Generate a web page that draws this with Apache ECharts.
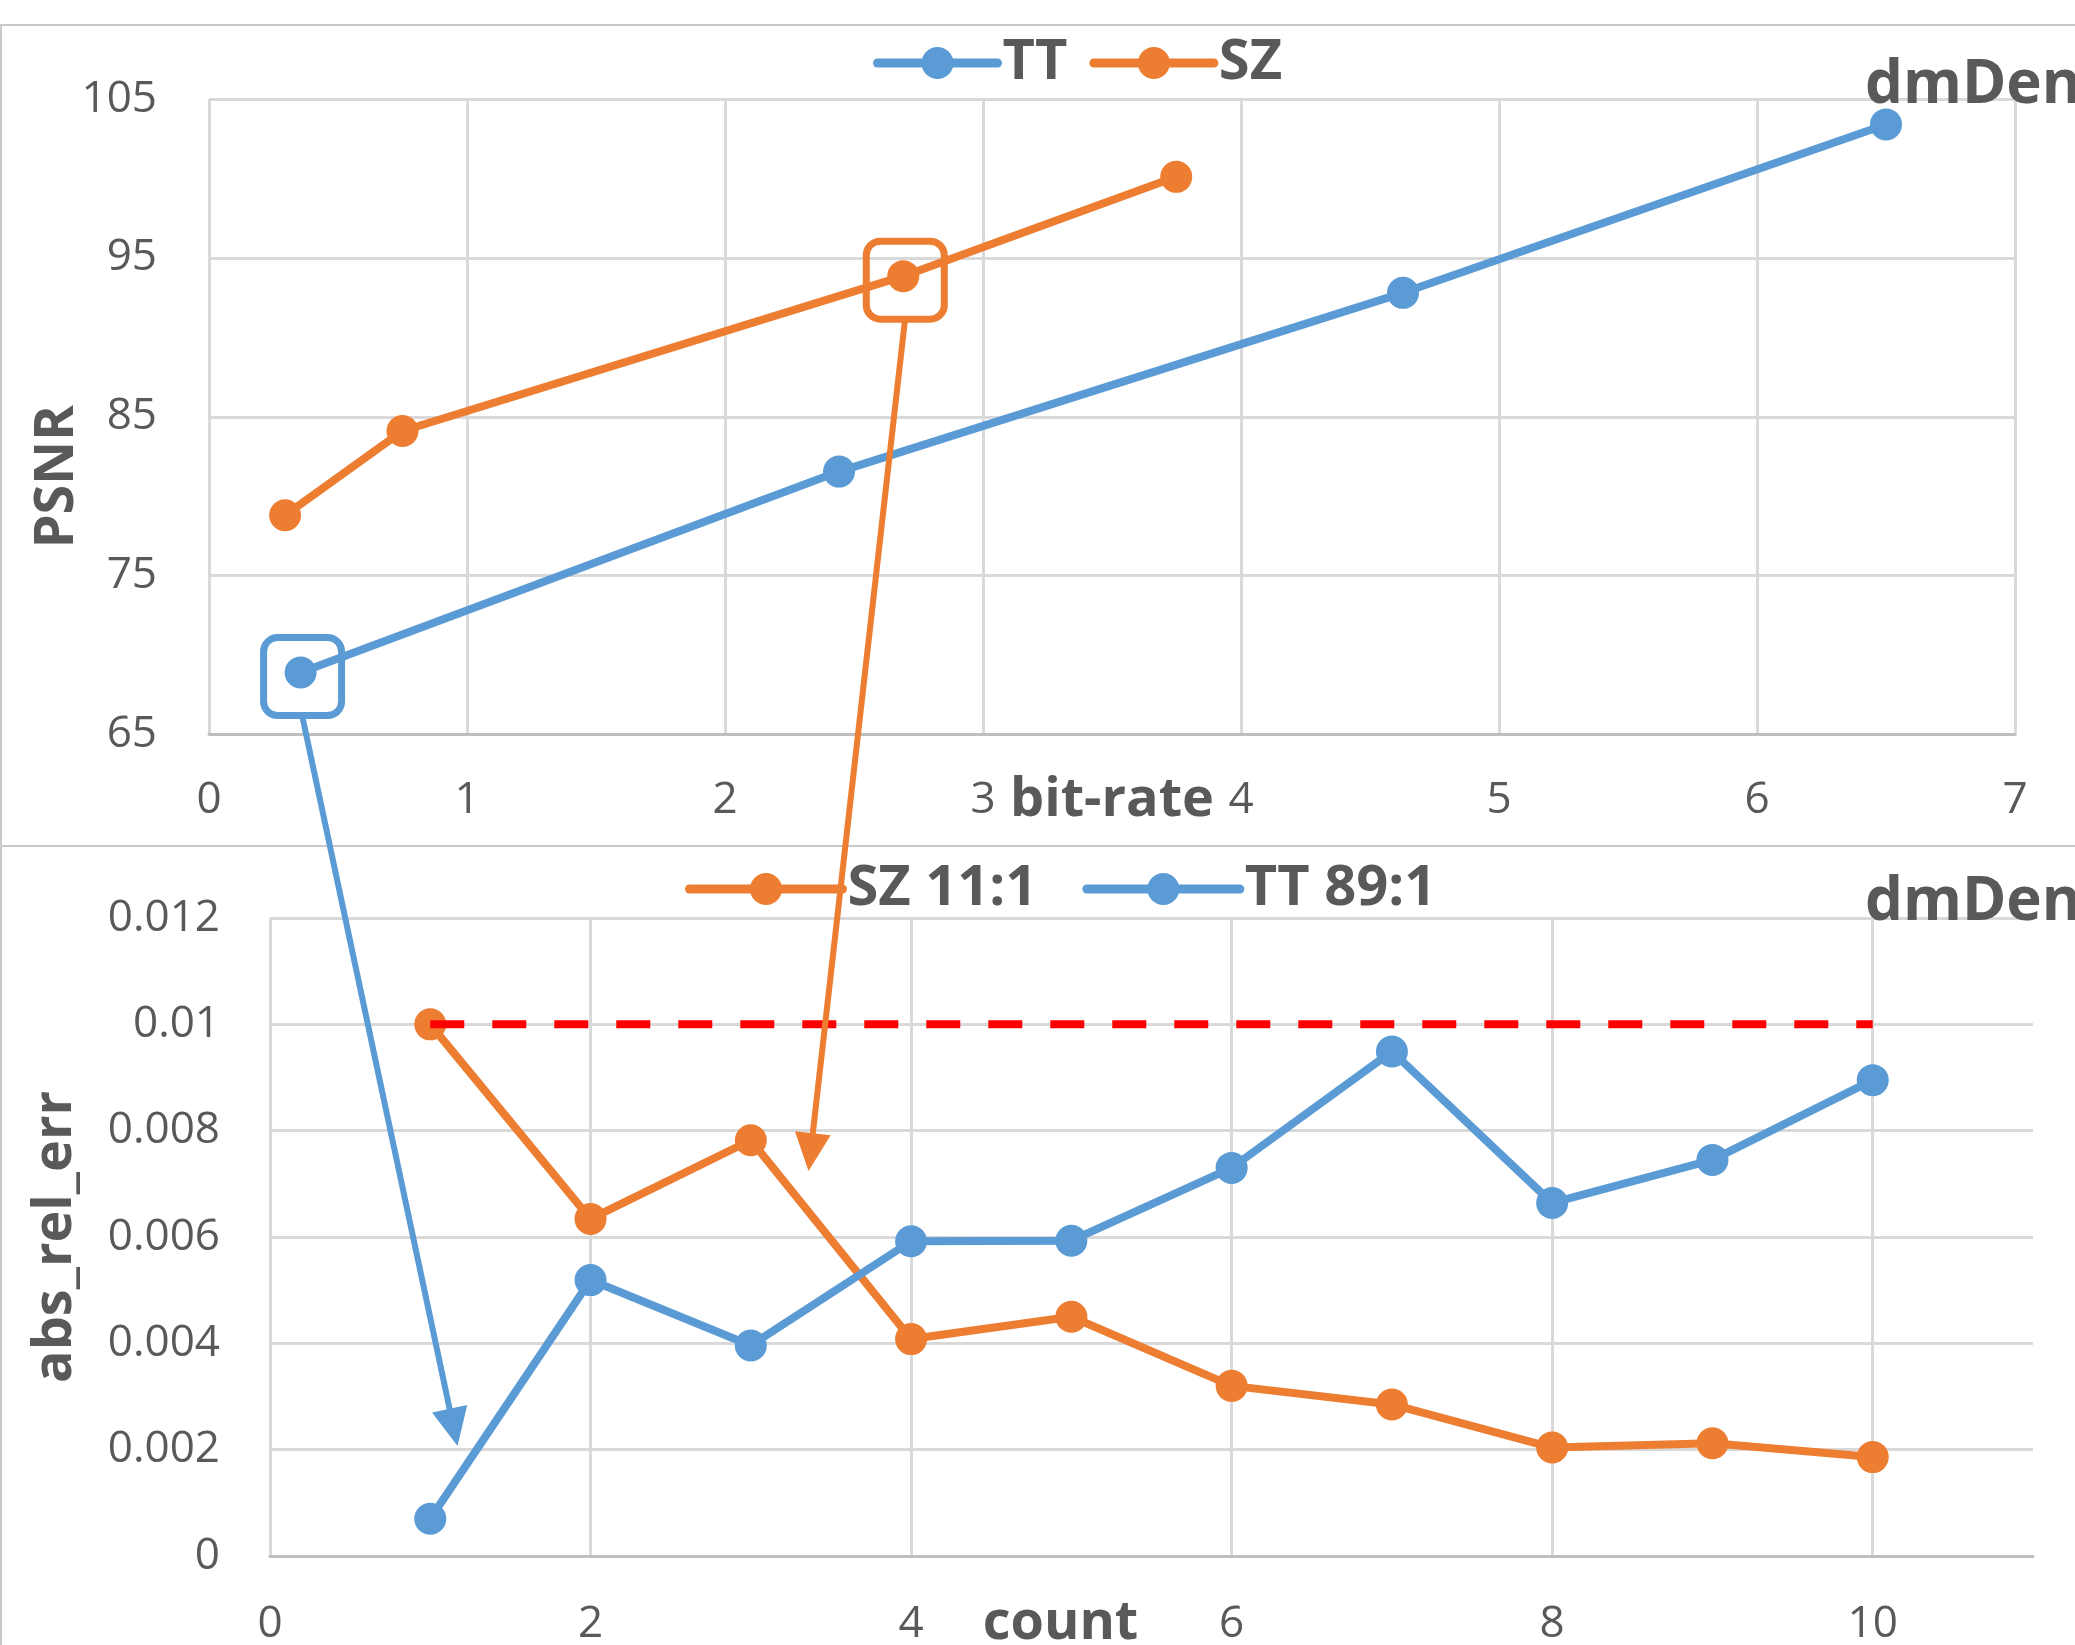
<!DOCTYPE html>
<html>
<head>
<meta charset="utf-8">
<script src="https://cdn.jsdelivr.net/npm/echarts@6/dist/echarts.min.js"></script>
<style>
  html, body { margin: 0; padding: 0; background: #fff; }
  #main { width: 2075px; height: 1645px; }
</style>
</head>
<body>
<div id="main"></div>
<script>
// top chart: PSNR vs bit-rate
var ttRate = [0.355, 2.442, 4.628, 6.50];
var ttPsnr = [68.9, 81.55, 92.8, 103.4];
var szRate = [0.295, 0.750, 2.691, 3.749];
var szPsnr = [78.8, 84.1, 93.85, 100.1];

// bottom chart: abs_rel_err vs count
var counts = [1, 2, 3, 4, 5, 6, 7, 8, 9, 10];
var szErr = [0.0100, 0.00634, 0.00782, 0.00408, 0.00450, 0.00320, 0.00285, 0.00204, 0.00212, 0.00186];
var ttErr = [0.00070, 0.00519, 0.00396, 0.00592, 0.00593, 0.00730, 0.00949, 0.00664, 0.00745, 0.00895];
var errBound = 0.01;

// highlighted points and where the arrows land (bottom chart coords)
var markTT = [0.355, 68.9];
var markSZ = [2.691, 93.85];
var arrowTipTT = [1.17, 0.00207];
var arrowTipSZ = [3.36, 0.00724];

var BLUE = "#5b9bd5";
var ORANGE = "#ed7d31";
var TXT = "#595959";
var FONT = "Open Sans";

function pairs(xs, ys) {
  var arr = [];
  for (var i = 0; i < xs.length; i++) {
    arr.push([xs[i], ys[i]]);
  }
  return arr;
}

function lineSeries(name, color, data, xi, yi) {
  return {
    name: name,
    type: "line",
    xAxisIndex: xi,
    yAxisIndex: yi,
    data: data,
    symbol: "circle",
    symbolSize: 32,
    color: color,
    lineStyle: { width: 8, color: color },
    itemStyle: { color: color },
    animation: false
  };
}

var tickLabel = { color: TXT, fontSize: 44, fontFamily: FONT };
var titleStyle = { color: TXT, fontSize: 54, fontWeight: "bold", fontFamily: FONT, lineHeight: 60 };
var legendText = { color: TXT, fontSize: 56, fontWeight: "bold", fontFamily: FONT, lineHeight: 56 };

var myChart = echarts.init(document.getElementById("main"));
var option = {
  backgroundColor: "#fff",
  animation: false,
  title: [
    { text: "dmDen", left: 1860, top: 51, textStyle: { color: TXT, fontSize: 60, fontWeight: "bold", fontFamily: FONT } },
    { text: "dmDen", left: 1860, top: 868, textStyle: { color: TXT, fontSize: 60, fontWeight: "bold", fontFamily: FONT } }
  ],
  legend: [
    {
      data: ["TT", "SZ"],
      left: 868,
      top: 30,
      itemWidth: 120,
      itemHeight: 40,
      itemGap: 22,
      lineStyle: { width: 9, cap: "round" },
      textStyle: legendText
    },
    {
      data: ["SZ 11:1", "TT 89:1"],
      left: 680,
      top: 856,
      itemWidth: 153,
      itemHeight: 40,
      itemGap: 45,
      lineStyle: { width: 9, cap: "round" },
      textStyle: legendText
    }
  ],
  grid: [
    { left: 209, top: 99, width: 1806, height: 635.5, outerBoundsMode: "none" },
    { left: 270, top: 918, width: 1763, height: 638, outerBoundsMode: "none" }
  ],
  xAxis: [
    {
      type: "value",
      gridIndex: 0,
      min: 0,
      max: 7,
      interval: 1,
      name: "bit-rate",
      nameLocation: "middle",
      nameGap: 36,
      nameMoveOverlap: false,
      nameTextStyle: titleStyle,
      axisLine: { show: true, lineStyle: { color: "#bfbfbf", width: 3 } },
      axisTick: { show: false },
      axisLabel: Object.assign({ margin: 44 }, tickLabel),
      splitLine: { show: true, lineStyle: { color: "#d9d9d9", width: 3 } }
    },
    {
      type: "value",
      gridIndex: 1,
      min: 0,
      max: 11,
      interval: 2,
      name: "count",
      nameLocation: "middle",
      nameGap: 38,
      nameMoveOverlap: false,
      nameTextStyle: Object.assign({ padding: [0, 182, 0, 0] }, titleStyle),
      axisLine: { show: true, lineStyle: { color: "#bfbfbf", width: 3 } },
      axisTick: { show: false },
      axisLabel: Object.assign({ margin: 46, showMaxLabel: false }, tickLabel),
      splitLine: { show: true, showMaxLine: false, lineStyle: { color: "#d9d9d9", width: 3 } }
    }
  ],
  yAxis: [
    {
      type: "value",
      gridIndex: 0,
      min: 65,
      max: 105,
      interval: 10,
      name: "PSNR",
      nameLocation: "middle",
      nameRotate: 90,
      nameGap: 121,
      nameMoveOverlap: false,
      nameTextStyle: Object.assign({ padding: [0, 120, 0, 0] }, titleStyle),
      axisLine: { show: false },
      axisTick: { show: false },
      axisLabel: Object.assign({ margin: 52 }, tickLabel),
      splitLine: { show: true, lineStyle: { color: "#d9d9d9", width: 3 } }
    },
    {
      type: "value",
      gridIndex: 1,
      min: 0,
      max: 0.012,
      interval: 0.002,
      name: "abs_rel_err",
      nameLocation: "middle",
      nameRotate: 90,
      nameGap: 184,
      nameMoveOverlap: false,
      nameTextStyle: titleStyle,
      axisLine: { show: false },
      axisTick: { show: false },
      axisLabel: Object.assign({ margin: 50 }, tickLabel),
      splitLine: { show: true, lineStyle: { color: "#d9d9d9", width: 3 } }
    }
  ],
  series: [
    lineSeries("TT", BLUE, pairs(ttRate, ttPsnr), 0, 0),
    lineSeries("SZ", ORANGE, pairs(szRate, szPsnr), 0, 0),
    lineSeries("SZ 11:1", ORANGE, pairs(counts, szErr), 1, 1),
    lineSeries("TT 89:1", BLUE, pairs(counts, ttErr), 1, 1),
    {
      name: "bound",
      type: "line",
      xAxisIndex: 1,
      yAxisIndex: 1,
      data: [[counts[0], errBound], [counts[counts.length - 1], errBound]],
      symbol: "none",
      lineStyle: { color: "#ff0000", width: 8, type: [34, 28] },
      z: 5,
      animation: false
    }
  ]
};
myChart.setOption(option);

// frames, boxes and arrows that tie the two charts together
function arrow(color, from, to) {
  var dx = to[0] - from[0], dy = to[1] - from[1];
  var len = Math.sqrt(dx * dx + dy * dy);
  var ux = dx / len, uy = dy / len;
  var head = 38, half = 18;
  var bx = to[0] - ux * head, by = to[1] - uy * head;
  return [
    {
      type: "line",
      shape: { x1: from[0], y1: from[1], x2: bx + ux * 2, y2: by + uy * 2 },
      style: { stroke: color, lineWidth: 6 },
      z: 100
    },
    {
      type: "polygon",
      shape: { points: [to, [bx - uy * half, by + ux * half], [bx + uy * half, by - ux * half]] },
      style: { fill: color },
      z: 100
    }
  ];
}

function box(color, c) {
  var s = 78;
  return {
    type: "rect",
    shape: { x: c[0] - s / 2 + 2, y: c[1] - s / 2 + 4, width: s, height: s, r: 14 },
    style: { fill: "none", stroke: color, lineWidth: 7 },
    z: 100
  };
}

var pTT = myChart.convertToPixel({ gridIndex: 0 }, markTT);
var pSZ = myChart.convertToPixel({ gridIndex: 0 }, markSZ);
var tTT = myChart.convertToPixel({ gridIndex: 1 }, arrowTipTT);
var tSZ = myChart.convertToPixel({ gridIndex: 1 }, arrowTipSZ);

var graphics = [
  { type: "line", shape: { x1: 0, y1: 25, x2: 2075, y2: 25 }, style: { stroke: "#c9c9c9", lineWidth: 2 } },
  { type: "line", shape: { x1: 1, y1: 25, x2: 1, y2: 1645 }, style: { stroke: "#c9c9c9", lineWidth: 2 } },
  { type: "line", shape: { x1: 0, y1: 846, x2: 2075, y2: 846 }, style: { stroke: "#c9c9c9", lineWidth: 2 } },
  box(BLUE, pTT),
  box(ORANGE, pSZ)
];
graphics = graphics.concat(arrow(BLUE, [pTT[0] + 2, pTT[1] + 45], tTT));
graphics = graphics.concat(arrow(ORANGE, [pSZ[0] + 2, pSZ[1] + 41], tSZ));

myChart.setOption({ graphic: graphics });
</script>
</body>
</html>
